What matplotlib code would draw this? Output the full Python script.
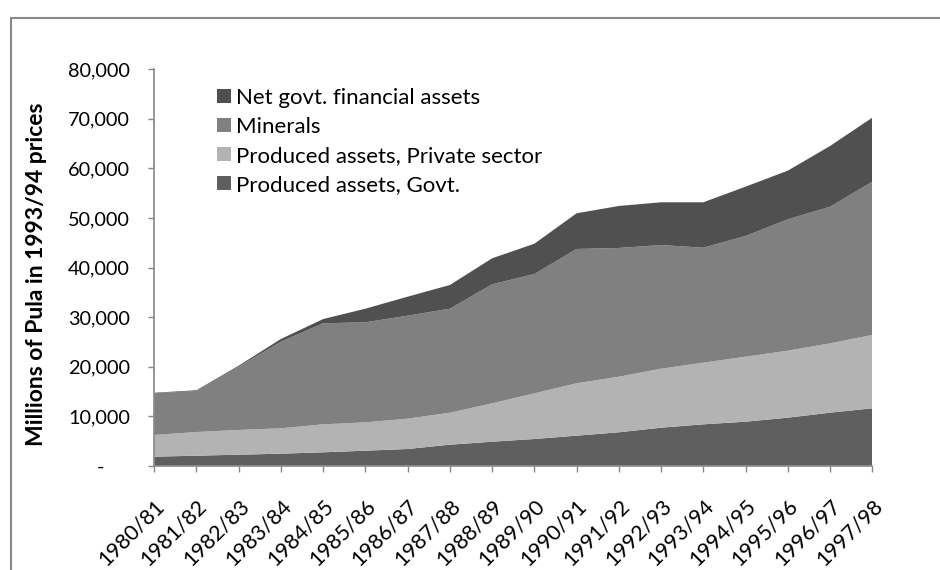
import matplotlib.pyplot as plt
import matplotlib.ticker as mticker
from matplotlib.patches import Rectangle
from matplotlib.transforms import ScaledTranslation

plt.rcParams['font.family'] = ['Lato', 'DejaVu Sans']

years = ['1980/81', '1981/82', '1982/83', '1983/84', '1984/85', '1985/86',
         '1986/87', '1987/88', '1988/89', '1989/90', '1990/91', '1991/92',
         '1992/93', '1993/94', '1994/95', '1995/96', '1996/97', '1997/98']

# Millions of Pula, 1993/94 prices
produced_govt = [1820, 2020, 2220, 2420, 2700, 3030, 3370, 4240, 4840, 5390,
                 6060, 6740, 7670, 8350, 8880, 9690, 10700, 11580]
produced_private = [4380, 4780, 4990, 5130, 5650, 5720, 6120, 6460, 7750, 9220,
                    10580, 11220, 11910, 12440, 13120, 13520, 14000, 14800]
minerals = [8420, 8280, 12780, 17480, 20390, 20190, 20790, 20990, 24020, 24080,
            27100, 25980, 24960, 23210, 24360, 26520, 27570, 30940]
net_fin_assets = [100, 150, 200, 550, 860, 2750, 3830, 4780, 5250, 6110,
                  7200, 8480, 8620, 9160, 9950, 9810, 12250, 12910]

colors = ['#5f5f5f', '#b3b3b3', '#808080', '#505050']
labels = ['Produced assets, Govt.', 'Produced assets, Private sector',
          'Minerals', 'Net govt. financial assets']

fig = plt.figure(figsize=(9.4, 5.7), dpi=100)
ax = fig.add_axes([0.1641, 0.1830, 0.7638, 0.6954])

x = list(range(len(years)))
ax.stackplot(x, produced_govt, produced_private, minerals, net_fin_assets,
             colors=colors, labels=labels, linewidth=0)

ax.set_xlim(0, len(years) - 1)
ax.set_ylim(0, 80000)
ax.set_yticks(range(0, 80001, 10000))
ax.yaxis.set_major_formatter(mticker.FuncFormatter(
    lambda v, p: '-     ' if v == 0 else f'{int(v):,}'))
ax.set_xticks(x)
ax.set_xticklabels(years, rotation=45, ha='right', rotation_mode='anchor')
shift = ScaledTranslation(3 / 100, 0, fig.dpi_scale_trans)
for lbl in ax.get_xticklabels():
    lbl.set_transform(lbl.get_transform() + shift)

axis_grey = '#868686'
for side in ['top', 'right']:
    ax.spines[side].set_visible(False)
for side in ['left', 'bottom']:
    ax.spines[side].set_color(axis_grey)
    ax.spines[side].set_linewidth(1.2)
ax.tick_params(axis='y', length=4.5, width=1, color=axis_grey, pad=13,
               labelsize=14.3, labelcolor='black')
ax.tick_params(axis='x', length=4.5, width=1, color=axis_grey, pad=17,
               labelsize=15.5, labelcolor='black')

ax.set_ylabel('Millions of Pula in 1993/94 prices', fontsize=16.5,
              fontweight='bold')
ax.yaxis.set_label_coords(-0.150, 0.484)

# legend listed top layer first
handles, leg_labels = ax.get_legend_handles_labels()
ax.legend(handles[::-1], leg_labels[::-1], loc='upper left',
          bbox_to_anchor=(0.088, 0.953), frameon=False, fontsize=16,
          handlelength=0.63, handleheight=0.63, handletextpad=0.22,
          labelspacing=0.40, borderpad=0, borderaxespad=0)

# outer chart border
fig.patches.append(Rectangle((11 / 940, -0.05), 1.0, 0.05 + (570 - 18) / 570,
                             transform=fig.transFigure, fill=False,
                             edgecolor='#888888', linewidth=1.5))

fig.savefig('out.png', dpi=100)
